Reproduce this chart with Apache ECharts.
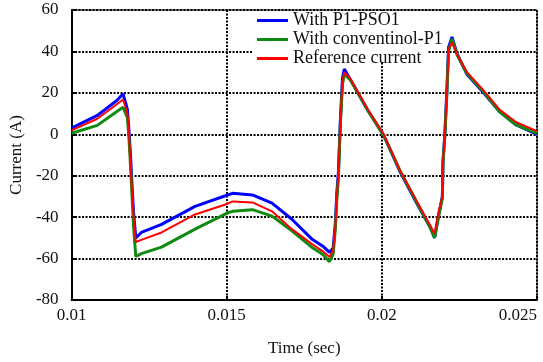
<!DOCTYPE html>
<html>
<head>
<meta charset="utf-8">
<title>Current</title>
<script src="https://cdn.jsdelivr.net/npm/echarts@6/dist/echarts.min.js"></script>
<style>
  html, body { margin: 0; padding: 0; background: #fff; }
  #chart { width: 543px; height: 362px; }
</style>
</head>
<body>
<div id="chart"></div>
<script>
// time axis (sec), shared by the three curves
const timeSec = [
  0.0100, 0.01083, 0.01146, 0.01166, 0.0118, 0.01185, 0.0119, 0.01195, 0.0120, 0.01207,
  0.01225, 0.0129, 0.01398, 0.01503, 0.01519, 0.01583, 0.01646, 0.0171, 0.01774, 0.0181,
  0.01831, 0.01843, 0.0185, 0.01855, 0.0186, 0.01866, 0.01873, 0.01879, 0.0190, 0.01955,
  0.02006, 0.0206, 0.02115, 0.02156, 0.0217, 0.02182, 0.02195, 0.02197, 0.02203, 0.0221,
  0.02215, 0.02226, 0.02242, 0.02274, 0.02325, 0.02379, 0.02433, 0.0250
];

// With P1-PSO1
const pso1Current = [
  3, 9.1, 16.3, 19.5, 12, 2, -10, -25, -38, -50,
  -47.4, -43.5, -34.8, -29.3, -28.5, -29.3, -33.2, -41, -50.5, -54,
  -57, -55, -43, -28, -18, 6, 27, 31.5, 26, 11.5,
  -0.5, -18.5, -34, -45, -50, -40, -30, -13, 0, 23,
  42, 47, 39, 29, 20.5, 11, 4.5, 0
];

// With conventinol-P1
const convCurrent = [
  0.5, 4.3, 11, 13, 8, -2, -15, -30, -45, -59,
  -57.6, -54.5, -45.8, -37.9, -37.2, -36.4, -39.5, -46.6, -54.5, -58,
  -61.5, -58, -46, -31, -21, 4, 24, 29, 26, 11.5,
  -0.5, -18, -33.5, -45, -50, -40, -31, -14, -1, 21,
  40, 46, 38.5, 29.5, 21, 11, 4.5, 0.5
];

// Reference current
const refCurrent = [
  1.9, 7.5, 14.5, 16.8, 10, 0, -15, -28, -40, -52,
  -51, -47.4, -38.7, -33.5, -32.4, -32.9, -37.2, -45.8, -52.9, -56.5,
  -59.2, -56, -45, -30, -20, 5, 25, 30, 26.5, 12,
  0, -18, -33, -44, -48, -38, -30, -13, 0, 22,
  41, 44.5, 38.5, 30, 21.7, 12, 5.8, 1.5
];

const seriesNames = ['With P1-PSO1', 'With conventinol-P1', 'Reference current'];

(function() {
  document.addEventListener('DOMContentLoaded', function() {
    initCurrentChart();
  });

  function pairUp(values) {
    return timeSec.map(function(t, i) { return [t, values[i]]; });
  }

  function initCurrentChart() {
    const el = document.getElementById('chart');
    const chart = echarts.init(el);
    const serif = "'Liberation Serif', 'Times New Roman', serif";

    const gridDots = { color: '#000', width: 2, type: [2, 1.5] };

    const option = {
      animation: false,
      backgroundColor: '#fff',
      grid: {
        left: 67,
        right: 6,
        top: 10,
        bottom: 60,
        show: true,
        borderColor: '#000',
        borderWidth: 1
      },
      // white box behind the legend
      graphic: [{
        type: 'rect',
        z: 1,
        shape: { x: 253, y: 11, width: 175, height: 51 },
        style: { fill: '#fff' }
      }],
      legend: {
        data: seriesNames,
        orient: 'vertical',
        left: 252,
        top: 11,
        padding: [0, 0, 0, 5],
        itemGap: 0,
        itemWidth: 31,
        itemHeight: 3,
        icon: 'rect',
        textStyle: {
          fontFamily: serif,
          fontSize: 18,
          lineHeight: 19,
          color: '#111'
        }
      },
      xAxis: {
        type: 'value',
        min: 0.01,
        max: 0.025,
        interval: 0.005,
        name: 'Time (sec)',
        nameLocation: 'middle',
        nameGap: 40,
        nameTextStyle: { fontFamily: serif, fontSize: 17, color: '#111' },
        axisLine: { show: true, onZero: false, lineStyle: { color: '#000', width: 2 } },
        axisTick: { inside: true, length: 4, lineStyle: { color: '#000', width: 2 } },
        axisLabel: {
          fontFamily: serif,
          fontSize: 17,
          color: '#111',
          margin: 7,
          alignMaxLabel: 'right',
          formatter: function(v) { return String(+v.toFixed(3)); }
        },
        splitLine: { show: true, lineStyle: gridDots }
      },
      yAxis: {
        type: 'value',
        min: -80,
        max: 60,
        interval: 20,
        name: 'Current (A)',
        nameLocation: 'middle',
        nameGap: 44,
        nameTextStyle: { fontFamily: serif, fontSize: 17, color: '#111' },
        axisLine: { show: true, lineStyle: { color: '#000', width: 2 } },
        axisTick: { inside: true, length: 4, lineStyle: { color: '#000', width: 2 } },
        axisLabel: { fontFamily: serif, fontSize: 17, color: '#111', margin: 13 },
        splitLine: { show: true, lineStyle: gridDots }
      },
      series: [
        {
          name: seriesNames[0],
          type: 'line',
          data: pairUp(pso1Current),
          symbol: 'none',
          z: 2,
          itemStyle: { color: '#0000ff' },
          lineStyle: { color: '#0000ff', width: 3 }
        },
        {
          name: seriesNames[1],
          type: 'line',
          data: pairUp(convCurrent),
          symbol: 'none',
          z: 3,
          itemStyle: { color: '#108a10' },
          lineStyle: { color: '#108a10', width: 3 }
        },
        {
          name: seriesNames[2],
          type: 'line',
          data: pairUp(refCurrent),
          symbol: 'none',
          z: 4,
          itemStyle: { color: '#ff0000' },
          lineStyle: { color: '#ff0000', width: 2 }
        }
      ]
    };

    chart.setOption(option);
  }
})();
</script>
</body>
</html>
